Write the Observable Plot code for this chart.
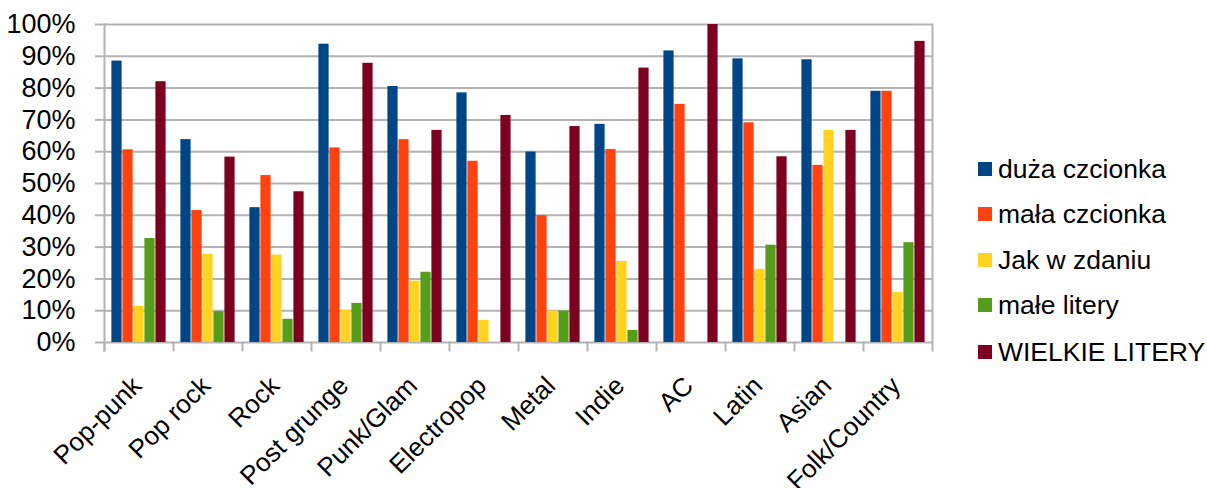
<!DOCTYPE html>
<html>
<head>
<meta charset="utf-8">
<script src="https://cdn.jsdelivr.net/npm/d3@7"></script>
<script src="https://cdn.jsdelivr.net/npm/@observablehq/plot@0.6"></script>
<style>
  html, body { margin: 0; padding: 0; background: #fff; }
  #wrap { position: relative; width: 1207px; height: 488px; overflow: hidden; font-family: "Liberation Sans", Arial, sans-serif; }
  #legend { position: absolute; left: 978px; top: 0; }
  .item { position: absolute; left: 0; height: 30px; display: flex; align-items: center; white-space: nowrap; font-size: 26.5px; color: #000; }
  .sw { display: inline-block; width: 14px; height: 14px; margin-right: 6px; flex: none; }
</style>
</head>
<body>
<div id="wrap"><div id="legend"></div></div>
<script>
const categories = ["Pop-punk","Pop rock","Rock","Post grunge","Punk/Glam","Electropop","Metal","Indie","AC","Latin","Asian","Folk/Country"];
const series = ["duża czcionka","mała czcionka","Jak w zdaniu","małe litery","WIELKIE LITERY"];
const colors = ["#004586","#ff420e","#ffd320","#579d1c","#7e0021"];
const duzaCzcionka  = [88.5,63.8,42.4,93.8,80.5,78.5,59.9,68.6,91.7,89.2,88.9,79.0];
const malaCzcionka  = [60.6,41.5,52.5,61.2,63.8,57.0,39.9,60.7,74.9,69.1,55.7,79.0];
const jakWZdaniu    = [11.4,27.7,27.5,10.2,19.3,7.0,9.9,25.5,0,23.0,66.7,15.7];
const maleLitery    = [32.7,9.7,7.3,12.3,22.1,0,9.9,3.8,0,30.6,0,31.4];
const wielkieLitery = [82.0,58.3,47.4,87.8,66.7,71.4,67.9,86.3,100,58.4,66.7,94.7];
const yTicks = [0,10,20,30,40,50,60,70,80,90,100];

const seriesValues = [duzaCzcionka, malaCzcionka, jakWZdaniu, maleLitery, wielkieLitery];
const rows = [];
categories.forEach((c, i) => series.forEach((s, j) => rows.push({category: c, series: s, value: seriesValues[j][i]})));

const grid = "#b3b3b3";
const chart = Plot.plot({
  width: 1207, height: 488,
  marginLeft: 101, marginRight: 272, marginTop: 24, marginBottom: 146,
  style: {fontFamily: "'Liberation Sans', Arial, sans-serif", fontSize: "26px", color: "#000", background: "transparent"},
  fx: {domain: categories, padding: 0, label: null},
  x: {domain: series, paddingInner: 0, paddingOuter: 0.53, axis: null},
  y: {domain: [0, 100], label: null},
  color: {domain: series, range: colors},
  marks: [
    Plot.gridY(yTicks, {stroke: grid, strokeOpacity: 1, strokeWidth: 2}),
    Plot.frame({anchor: "left", insetTop: 318, insetBottom: -8, stroke: grid, strokeWidth: 2}),
    Plot.frame({anchor: "left", facetAnchor: "left", insetBottom: -8, stroke: grid, strokeWidth: 2}),
    Plot.frame({anchor: "right", facetAnchor: "right", insetBottom: -8, stroke: grid, strokeWidth: 2}),
    Plot.barY(rows, {fx: "category", x: "series", y: "value", fill: "series", insetLeft: 0.4, insetRight: 0.4}),
    Plot.axisY(yTicks, {tickSize: 9, tickPadding: 20, stroke: grid, strokeWidth: 2, fontSize: 27, tickFormat: d => d + "%", label: null}),
    Plot.axisFx({anchor: "bottom", tickRotate: -45, tickSize: 0, tickPadding: 0, dx: -2, dy: 39, fontSize: 26, label: null})
  ]
});
document.getElementById("wrap").prepend(chart);
chart.style.position = "absolute"; chart.style.left = "0"; chart.style.top = "0";

const legend = document.getElementById("legend");
const legendCenters = [169, 214, 260, 305, 352];
series.forEach((s, i) => {
  const d = document.createElement("div");
  d.className = "item";
  d.style.top = (legendCenters[i] - 15) + "px";
  d.innerHTML = `<span class="sw" style="background:${colors[i]}"></span><span>${s}</span>`;
  legend.appendChild(d);
});
</script>
</body>
</html>
